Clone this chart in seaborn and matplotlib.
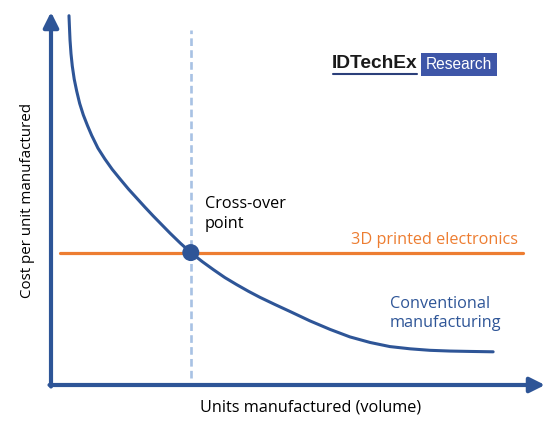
"""
Cost per unit vs volume: 3D printed electronics vs conventional manufacturing
"""

import numpy as np
import pandas as pd
import matplotlib.pyplot as plt
import seaborn as sns
from matplotlib.patches import Rectangle

sns.set_style('white')
plt.rcParams['font.family'] = ['Open Sans', 'DejaVu Sans']

# values (arbitrary 0-100 units on both axes)
volume = [3.64, 3.75, 3.85, 4.05, 4.31, 4.7, 5.2, 5.8, 6.54, 7.4, 8.24, 9.5,
          10.9, 12.4, 14.0, 15.7, 17.35, 19.0, 20.7, 22.4, 24.1, 26.2, 28.3,
          30.6, 32.9, 35.2, 37.6, 40.0, 42.3, 45.3, 48.4, 52.4, 56.5, 60.5,
          64.6, 68.6, 72.7, 76.7, 80.8, 84.8, 89.5]
conventional = [99.0, 95.5, 92.5, 88.8, 85.5, 82.0, 78.8, 75.5, 72.4, 69.5,
                66.9, 63.5, 60.6, 57.8, 55.2, 52.5, 50.1, 47.7, 45.3, 43.0,
                40.7, 38.0, 35.5, 33.1, 30.9, 28.8, 26.9, 25.1, 23.5, 21.6,
                19.7, 17.2, 14.9, 12.9, 11.4, 10.3, 9.7, 9.3, 9.1, 9.0, 8.9]
printed_x = [1.8, 95.5]
printed_cost = [35.5, 35.5]
crossover_x = [28.3]
crossover_y = [35.5]

dark_blue = '#2E5597'
orange = '#ED7D31'
light_blue = '#A8C2E4'

df_conv = pd.DataFrame({'volume': volume, 'cost': conventional})
df_print = pd.DataFrame({'volume': printed_x, 'cost': printed_cost})

fig = plt.figure(figsize=(5.48, 4.24), dpi=100)
ax = fig.add_axes([51 / 548, 39 / 424, 494 / 548, 373 / 424])
ax.set_xlim(0, 100)
ax.set_ylim(0, 100)

# вертикальная пунктирная линия точки пересечения
ax.plot([crossover_x[0], crossover_x[0]], [1.9, 95.2], color=light_blue,
        linewidth=1.9, dashes=(2.9, 1.6))

sns.lineplot(data=df_print, x='volume', y='cost', color=orange,
             linewidth=2.3, ax=ax)
sns.lineplot(data=df_conv, x='volume', y='cost', color=dark_blue,
             linewidth=2.2, ax=ax)
sns.scatterplot(x=crossover_x, y=crossover_y, color=dark_blue,
                s=150, edgecolor='none', zorder=5, ax=ax)

for s in ax.spines.values():
    s.set_visible(False)
ax.set_xticks([])
ax.set_yticks([])
ax.set_xlabel('')
ax.set_ylabel('')

# оси со стрелками
arrow = dict(arrowstyle='-|>,head_length=0.9,head_width=0.45', color=dark_blue,
             linewidth=3.0, shrinkA=0, shrinkB=0)
ax.annotate('', xy=(0, 1), xytext=(0, -0.004), xycoords='axes fraction',
            arrowprops=arrow, annotation_clip=False)
ax.annotate('', xy=(1, 0), xytext=(-0.003, 0), xycoords='axes fraction',
            arrowprops=arrow, annotation_clip=False)

fig.text(311 / 548, 1 - 408 / 424, 'Units manufactured (volume)',
         ha='center', va='center', fontsize=11.7, color='black')
fig.text(27.5 / 548, 1 - 200 / 424, 'Cost per unit manufactured',
         ha='center', va='center', rotation=90, fontsize=10.9, color='black')

fig.text(205 / 548, 1 - 214 / 424, 'Cross-over\npoint', ha='left',
         va='center', fontsize=11.7, color='black', linespacing=1.3)
fig.text(518 / 548, 1 - 239.5 / 424, '3D printed electronics', ha='right',
         va='center', fontsize=11.7, color=orange)
fig.text(390 / 548, 1 - 313.5 / 424, 'Conventional\nmanufacturing', ha='left',
         va='center', fontsize=11.7, color=dark_blue, linespacing=1.3)

# логотип
fig.text(332 / 548, 1 - 64 / 424, 'IDTechEx', ha='left', va='center',
         fontsize=13.8, fontweight='bold', color='#1A1A1A',
         family=['Liberation Sans', 'DejaVu Sans'])
fig.add_artist(plt.Line2D([333 / 548, 417 / 548], [1 - 74 / 424, 1 - 74 / 424],
                          color='#2B3F7A', linewidth=1.5))
fig.add_artist(Rectangle((421 / 548, 1 - 76 / 424), 76 / 548, 23 / 424,
                         facecolor='#3E56A8', edgecolor='none',
                         transform=fig.transFigure))
fig.text(458.5 / 548, 1 - 64.5 / 424, 'Research', ha='center', va='center',
         fontsize=11.2, color='white', family=['Liberation Sans', 'DejaVu Sans'])

fig.savefig('out.png', dpi=100)
